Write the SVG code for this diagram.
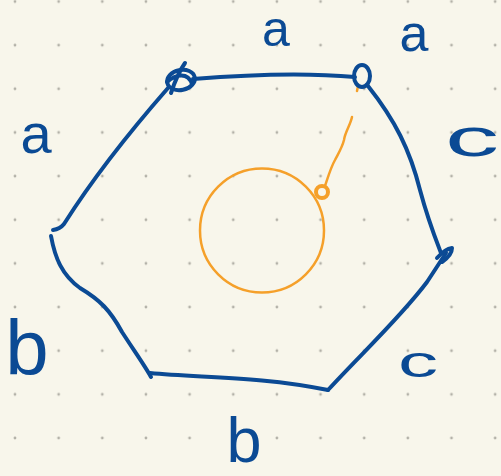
<svg xmlns="http://www.w3.org/2000/svg" width="501" height="476" viewBox="0 0 501 476">
<style>
.ink{fill:none;stroke:#0b4a94;stroke-width:4;stroke-linecap:round;stroke-linejoin:round}
.org{fill:none;stroke:#f5a02a;stroke-linecap:round;stroke-linejoin:round}
.lbl{font-family:"Liberation Sans","DejaVu Sans",sans-serif;fill:#0b4a94;text-anchor:middle}
</style>
<defs>
<pattern id="dots" patternUnits="userSpaceOnUse" x="-6.8" y="-20.3" width="43.65" height="43.65">
<circle cx="21.8" cy="21.8" r="1.4" fill="#b3b1a8"/>
</pattern>
</defs>
<rect width="501" height="476" fill="#f8f6eb"/>
<rect width="501" height="476" fill="url(#dots)"/>
<g id="circle">
<circle class="org" cx="262" cy="230.5" r="62" stroke-width="2.5"/>
</g>
<g id="pointer">
<path class="org" stroke-width="2.5" d="M352,117 C350,126 345,132 344,140 C342,148 338,154 335,160 C331,167 329,174 325,186"/>
<circle class="org" cx="322" cy="192" r="6" stroke-width="4"/>
<path class="org" stroke-width="2.5" d="M358,86 L357,91"/>
</g>
<g id="connectors">
<path class="ink" d="M193,79 C230,76 300,72 355,77"/>
<path class="ink" d="M168,88 C140,120 95,175 64,224 Q60,229 53,230"/>
<path class="ink" d="M51,236 C55,258 62,275 80,288 C100,300 110,310 122,332 C135,352 145,366 151,377"/>
<path class="ink" d="M150,373 C200,378 260,376 328,390"/>
<path class="ink" d="M328,390 C360,355 400,318 427,282 L446,253"/>
<path class="ink" d="M368,86 C395,120 410,150 420,190 C428,220 436,240 441,253"/>
</g>
<g id="vertex-top-left">
<ellipse class="ink" cx="181" cy="80" rx="14" ry="10" stroke-width="4.5" transform="rotate(-12 181 80)"/>
<path class="ink" d="M171,93 C175,81 180,70 185,63 M167,82 C176,74 188,72 192,84"/>
</g>
<g id="vertex-top-right">
<ellipse class="ink" cx="362" cy="76" rx="8" ry="11" stroke-width="6"/>
</g>
<g id="vertex-right">
<path class="ink" d="M437,258 Q445,249 452,248 Q452,255 442,262"/>
</g>
<g id="labels">
<text class="lbl" x="276" y="46" font-size="50">a</text>
<text class="lbl" x="36" y="153" font-size="56">a</text>
<text class="lbl" x="414" y="51" font-size="52">a</text>
<text class="lbl" x="472" y="156" font-size="54" textLength="54" lengthAdjust="spacingAndGlyphs">c</text>
<text class="lbl" x="418" y="377" font-size="44" textLength="40" lengthAdjust="spacingAndGlyphs">c</text>
<text class="lbl" x="27" y="375" font-size="78">b</text>
<text class="lbl" x="244" y="462" font-size="63">b</text>
</g>
</svg>
